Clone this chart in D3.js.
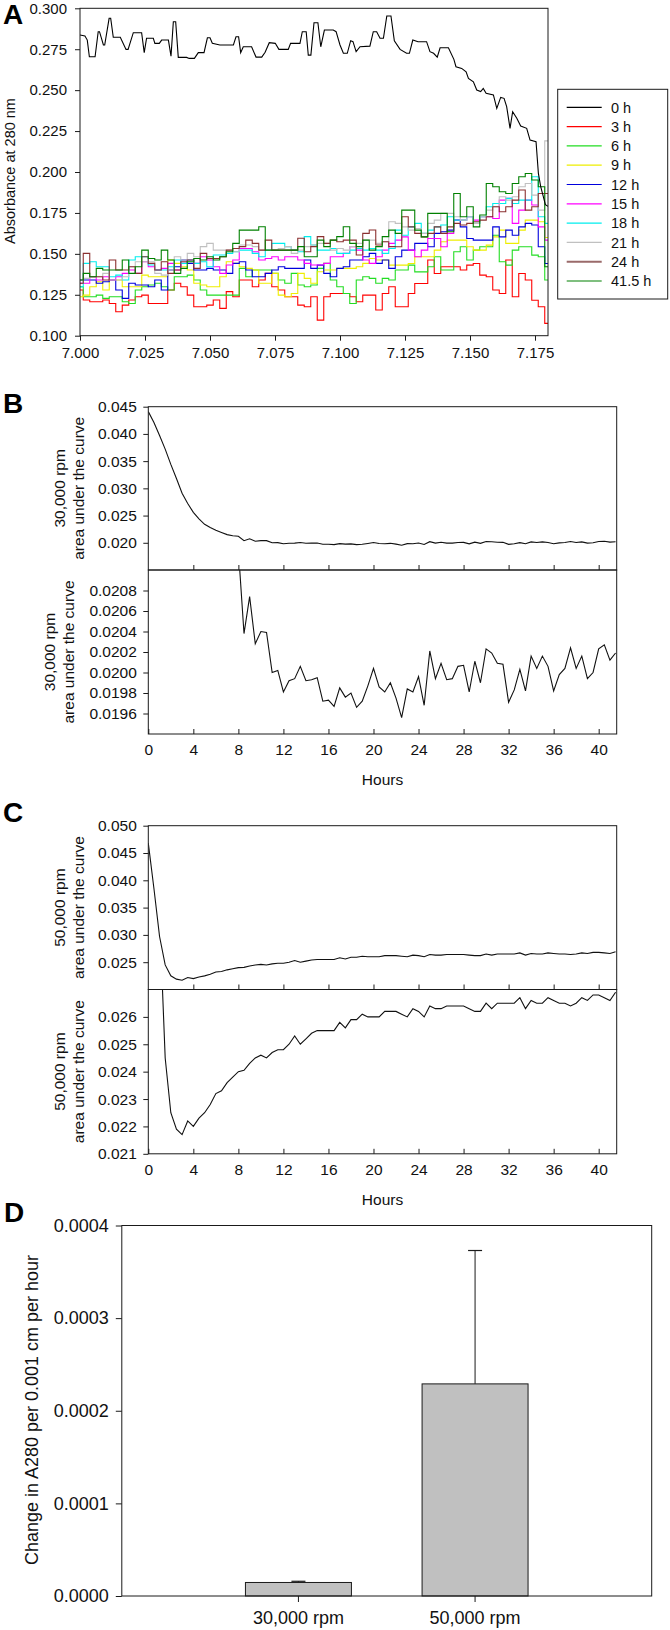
<!DOCTYPE html>
<html><head><meta charset="utf-8">
<script src="https://cdn.jsdelivr.net/npm/d3@7/dist/d3.min.js"></script>
<style>body{margin:0;background:#fff}svg{display:block}</style>
</head><body>
<script>
// ---------- Panel A data ----------
const seriesNames = ["0 h","3 h","6 h","9 h","12 h","15 h","18 h","21 h","24 h","41.5 h"];
const seriesColors = ["#000000","#ff0000","#22dd22","#eeee00","#0000dd","#ff00ff","#00eeee","#c0c0c0","#8b3030","#008000"];
const cm0h = [7.000,7.0019,7.0028,7.0036,7.0058,7.0070,7.0075,7.0090,7.0095,7.0112,7.0118,7.0128,7.0155,7.0177,7.0185,7.0205,7.0237,7.0247,7.0256,7.0282,7.0288,7.0305,7.0314,7.0340,7.0350,7.0359,7.0368,7.0378,7.0410,7.0420,7.0440,7.0455,7.0477,7.0490,7.0500,7.0509,7.0538,7.0590,7.0600,7.0610,7.0618,7.0628,7.0660,7.0677,7.0699,7.0712,7.0728,7.0751,7.0765,7.0801,7.0810,7.0846,7.0855,7.0870,7.0878,7.0888,7.0900,7.0915,7.0926,7.0940,7.0974,7.0985,7.1000,7.1013,7.1028,7.1041,7.1050,7.1062,7.1077,7.1115,7.1128,7.1141,7.1154,7.1167,7.1180,7.1196,7.1209,7.1231,7.1256,7.1267,7.1280,7.1300,7.1333,7.1346,7.1360,7.1374,7.1385,7.1417,7.1438,7.1446,7.1468,7.1485,7.1494,7.1513,7.1526,7.1541,7.1551,7.1562,7.1590,7.1603,7.1618,7.1631,7.1641,7.1654,7.1664,7.1680,7.1695,7.1718,7.1731,7.1754,7.1763,7.1772,7.1790,7.1800];
const abs0h = [0.2837,0.2831,0.2806,0.2704,0.2704,0.2857,0.2857,0.2776,0.2776,0.2939,0.2939,0.2823,0.2823,0.2749,0.2749,0.2851,0.2851,0.2729,0.2817,0.2817,0.2786,0.2786,0.2806,0.2806,0.2708,0.2918,0.2918,0.2700,0.2700,0.2694,0.2694,0.2729,0.2729,0.2820,0.2820,0.2786,0.2776,0.2776,0.2826,0.2826,0.2729,0.2765,0.2765,0.2702,0.2702,0.2731,0.2790,0.2786,0.2749,0.2749,0.2786,0.2786,0.2857,0.2857,0.2714,0.2714,0.2912,0.2912,0.2765,0.2867,0.2867,0.2857,0.2776,0.2725,0.2725,0.2802,0.2796,0.2735,0.2765,0.2769,0.2857,0.2857,0.2817,0.2817,0.2953,0.2953,0.2802,0.2749,0.2725,0.2725,0.2806,0.2796,0.2796,0.2735,0.2725,0.2702,0.2759,0.2759,0.2688,0.2643,0.2633,0.2612,0.2572,0.2551,0.2501,0.2491,0.2511,0.2481,0.2471,0.2389,0.2456,0.2450,0.2399,0.2267,0.2368,0.2328,0.2281,0.2267,0.2195,0.2185,0.1992,0.1910,0.1800,0.1790];
const cmGrid = [7.0000,7.0025,7.0050,7.0075,7.0100,7.0125,7.0150,7.0175,7.0200,7.0225,7.0250,7.0275,7.0300,7.0325,7.0350,7.0375,7.0400,7.0425,7.0450,7.0475,7.0500,7.0525,7.0550,7.0575,7.0600,7.0625,7.0650,7.0675,7.0700,7.0725,7.0750,7.0775,7.0800,7.0825,7.0850,7.0875,7.0900,7.0925,7.0950,7.0975,7.1000,7.1025,7.1050,7.1075,7.1100,7.1125,7.1150,7.1175,7.1200,7.1225,7.1250,7.1275,7.1300,7.1325,7.1350,7.1375,7.1400,7.1425,7.1450,7.1475,7.1500,7.1525,7.1550,7.1575,7.1600,7.1625,7.1650,7.1675,7.1700,7.1725,7.1750,7.1775,7.1800];
const abs3h = [0.1279,0.1218,0.1207,0.1207,0.1218,0.1197,0.1146,0.1187,0.1218,0.1238,0.1248,0.1197,0.1197,0.1197,0.1279,0.1320,0.1299,0.1248,0.1177,0.1177,0.1187,0.1218,0.1167,0.1269,0.1238,
 0.1340,0.1340,0.1299,0.1340,0.1381,0.1299,0.1279,0.1238,0.1238,0.1187,0.1177,0.1238,0.1095,0.1238,0.1258,0.1258,0.1258,0.1238,0.1207,0.1248,0.1248,0.1157,0.1258,0.1299,
 0.1177,0.1177,0.1258,0.1319,0.1319,0.1462,0.1380,0.1421,0.1421,0.1421,0.1401,0.1431,0.1441,0.1370,0.1360,0.1279,0.1258,0.1462,0.1238,0.1380,0.1340,0.1217,0.1177,0.1075];
const abs6h = [0.1299,0.1238,0.1238,0.1248,0.1228,0.1238,0.1238,0.1207,0.1197,0.1279,0.1299,0.1310,0.1320,0.1299,0.1279,0.1360,0.1360,0.1370,0.1340,0.1279,0.1248,0.1248,0.1248,0.1248,0.1248,
 0.1411,0.1360,0.1401,0.1401,0.1401,0.1381,0.1340,0.1320,0.1381,0.1310,0.1299,0.1310,0.1411,0.1442,0.1340,0.1299,0.1258,0.1197,0.1340,0.1360,0.1350,0.1320,0.1350,0.1340,
 0.1401,0.1401,0.1431,0.1390,0.1390,0.1421,0.1482,0.1401,0.1401,0.1513,0.1543,0.1462,0.1523,0.1543,0.1543,0.1614,0.1452,0.1431,0.1523,0.1543,0.1543,0.1492,0.1482,0.1340];
const abs9h = [0.1238,0.1248,0.1299,0.1330,0.1279,0.1340,0.1340,0.1299,0.1299,0.1299,0.1370,0.1360,0.1360,0.1360,0.1462,0.1442,0.1421,0.1401,0.1320,0.1310,0.1299,0.1299,0.1360,0.1452,0.1442,
 0.1421,0.1411,0.1401,0.1320,0.1320,0.1381,0.1248,0.1238,0.1258,0.1381,0.1350,0.1320,0.1391,0.1401,0.1401,0.1411,0.1411,0.1411,0.1421,0.1442,0.1472,0.1462,0.1462,0.1431,
 0.1431,0.1431,0.1441,0.1482,0.1482,0.1482,0.1523,0.1574,0.1584,0.1584,0.1584,0.1543,0.1523,0.1523,0.1553,0.1604,0.1645,0.1564,0.1564,0.1645,0.1706,0.1706,0.1696,0.1600];
const abs12h = [0.1340,0.1340,0.1340,0.1320,0.1330,0.1340,0.1279,0.1228,0.1320,0.1310,0.1310,0.1299,0.1340,0.1279,0.1401,0.1421,0.1462,0.1442,0.1401,0.1401,0.1411,0.1401,0.1401,0.1381,0.1442,
 0.1452,0.1401,0.1360,0.1360,0.1381,0.1401,0.1421,0.1411,0.1411,0.1411,0.1462,0.1411,0.1431,0.1381,0.1360,0.1411,0.1421,0.1462,0.1462,0.1482,0.1503,0.1442,0.1462,0.1411,
 0.1482,0.1523,0.1523,0.1564,0.1564,0.1543,0.1625,0.1635,0.1645,0.1706,0.1665,0.1594,0.1584,0.1584,0.1584,0.1665,0.1604,0.1645,0.1614,0.1665,0.1686,0.1676,0.1543,0.1441];
const abs15h = [0.1320,0.1320,0.1360,0.1340,0.1360,0.1340,0.1360,0.1381,0.1401,0.1381,0.1452,0.1421,0.1401,0.1411,0.1442,0.1401,0.1442,0.1462,0.1442,0.1482,0.1462,0.1421,0.1381,0.1432,0.1462,
 0.1533,0.1533,0.1513,0.1462,0.1472,0.1482,0.1462,0.1482,0.1482,0.1462,0.1442,0.1432,0.1432,0.1442,0.1482,0.1482,0.1503,0.1544,0.1523,0.1462,0.1442,0.1482,0.1523,0.1564,
 0.1584,0.1604,0.1523,0.1482,0.1523,0.1594,0.1594,0.1543,0.1625,0.1706,0.1706,0.1727,0.1706,0.1727,0.1727,0.1716,0.1828,0.1839,0.1686,0.1767,0.1828,0.1798,0.1665,0.1584];
const abs18h = [0.1299,0.1442,0.1452,0.1421,0.1421,0.1360,0.1370,0.1340,0.1462,0.1482,0.1482,0.1432,0.1401,0.1401,0.1421,0.1462,0.1442,0.1462,0.1442,0.1452,0.1421,0.1493,0.1493,0.1503,0.1513,
 0.1523,0.1523,0.1503,0.1482,0.1523,0.1564,0.1564,0.1544,0.1523,0.1513,0.1605,0.1554,0.1523,0.1523,0.1533,0.1503,0.1503,0.1523,0.1533,0.1523,0.1533,0.1523,0.1503,0.1533,
 0.1645,0.1614,0.1665,0.1686,0.1625,0.1645,0.1665,0.1676,0.1727,0.1706,0.1706,0.1727,0.1686,0.1727,0.1788,0.1808,0.1808,0.1839,0.1808,0.1828,0.1828,0.1971,0.1727,0.1686];
const abs21h = [0.1340,0.1350,0.1360,0.1360,0.1381,0.1340,0.1340,0.1360,0.1421,0.1452,0.1452,0.1452,0.1381,0.1370,0.1401,0.1482,0.1462,0.1503,0.1482,0.1544,0.1564,0.1523,0.1523,0.1523,0.1513,
 0.1554,0.1554,0.1544,0.1523,0.1523,0.1523,0.1533,0.1544,0.1503,0.1523,0.1544,0.1554,0.1564,0.1564,0.1523,0.1533,0.1523,0.1544,0.1564,0.1584,0.1584,0.1564,0.1574,0.1696,
 0.1686,0.1665,0.1645,0.1655,0.1625,0.1686,0.1706,0.1747,0.1747,0.1727,0.1706,0.1727,0.1686,0.1727,0.1767,0.1788,0.1849,0.1828,0.1849,0.1910,0.1930,0.1859,0.1767,0.2190];
const abs24h = [0.1320,0.1503,0.1360,0.1360,0.1340,0.1462,0.1401,0.1401,0.1421,0.1381,0.1482,0.1442,0.1401,0.1452,0.1381,0.1401,0.1452,0.1462,0.1411,0.1503,0.1472,0.1472,0.1482,0.1523,0.1533,
 0.1544,0.1584,0.1564,0.1523,0.1584,0.1523,0.1523,0.1523,0.1523,0.1595,0.1513,0.1544,0.1605,0.1564,0.1584,0.1574,0.1584,0.1584,0.1493,0.1625,0.1646,0.1554,0.1574,0.1544,
 0.1543,0.1727,0.1665,0.1625,0.1604,0.1625,0.1665,0.1625,0.1665,0.1686,0.1676,0.1686,0.1696,0.1706,0.1727,0.1788,0.1757,0.1788,0.1828,0.1890,0.1767,0.1788,0.1869,0.1869];
const abs41h = [0.1340,0.1381,0.1360,0.1411,0.1401,0.1401,0.1401,0.1462,0.1381,0.1421,0.1523,0.1472,0.1462,0.1523,0.1462,0.1381,0.1411,0.1452,0.1472,0.1462,0.1482,0.1462,0.1482,0.1513,0.1564,
 0.1645,0.1645,0.1645,0.1666,0.1523,0.1523,0.1523,0.1523,0.1523,0.1544,0.1482,0.1482,0.1584,0.1544,0.1584,0.1605,0.1666,0.1564,0.1544,0.1584,0.1523,0.1544,0.1605,0.1645,
 0.1625,0.1767,0.1767,0.1645,0.1604,0.1747,0.1747,0.1747,0.1635,0.1869,0.1727,0.1788,0.1665,0.1737,0.1930,0.1910,0.1879,0.1869,0.1930,0.1971,0.1991,0.1951,0.1910,0.1421];
const aYTicks = [0.100,0.125,0.150,0.175,0.200,0.225,0.250,0.275,0.300];
const aXTicks = [7.000,7.025,7.050,7.075,7.100,7.125,7.150,7.175];

// ---------- Panels B and C data ----------
const hours = [0,0.5,1,1.5,2,2.5,3,3.5,4,4.5,5,5.5,6,6.5,7,7.5,8,8.5,9,9.5,10,10.5,11,11.5,12,12.5,13,13.5,14,14.5,15,15.5,16,16.5,17,17.5,18,18.5,19,19.5,20,20.5,21,21.5,22,22.5,23,23.5,24,24.5,25,25.5,26,26.5,27,27.5,28,28.5,29,29.5,30,30.5,31,31.5,32,32.5,33,33.5,34,34.5,35,35.5,36,36.5,37,37.5,38,38.5,39,39.5,40,40.5,41,41.5];
const auc30k = [0.0441,0.0421,0.0397,0.0372,0.0344,0.0318,0.0291,0.0272,0.0256,0.0244,0.0234,0.0228,0.0223,0.0219,0.0215,0.0213,0.0212,
 0.02038,0.02074,0.02028,0.02040,0.02039,0.02000,0.02002,0.01981,0.01992,0.01994,
 0.02006,0.01992,0.01993,0.01995,0.01972,0.01973,0.01967,0.01985,0.01976,0.01980,
 0.01966,0.01972,0.01987,0.02004,0.01986,0.01981,0.01990,0.01975,0.01956,0.01984,
 0.01981,0.01996,0.01968,0.02021,0.01994,0.02009,0.01993,0.01994,0.02006,0.02007,
 0.01981,0.02011,0.01990,0.02023,0.02019,0.02009,0.02008,0.01971,0.01983,0.02003,
 0.01982,0.02016,0.02004,0.02016,0.02006,0.01982,0.01998,0.02004,0.02024,0.02004,
 0.02016,0.01994,0.02000,0.02023,0.02027,0.02012,0.02019];
const auc50k = [0.0468,0.0385,0.0297,0.0245,0.0225,0.0219,0.0217,0.0222,0.0220,0.0223,0.0225,0.0228,0.0232,0.0233,0.0236,0.0238,0.0240,0.02405,0.0243,0.0245,
 0.0246,0.0245,0.0247,0.0248,0.0248,0.0250,0.0253,0.0250,0.0252,0.0254,0.0255,0.0255,0.0255,0.0255,0.0258,0.0256,0.0259,0.0259,0.0261,0.0260,
 0.0260,0.0260,0.0262,0.0262,0.0262,0.0261,0.0260,0.0263,0.0262,0.0260,0.0264,0.0263,0.0263,0.0264,0.0264,0.0264,0.0264,0.0263,0.0262,0.0262,
 0.0265,0.0263,0.0265,0.0265,0.0265,0.0265,0.0267,0.0263,0.0266,0.0265,0.0265,0.0267,0.0266,0.0265,0.0265,0.0264,0.0265,0.0267,0.0266,0.0268,
 0.0268,0.0267,0.0266,0.0269];
const hourTicks = [0,4,8,12,16,20,24,28,32,36,40];
const bUpperTicks = [0.020,0.025,0.030,0.035,0.040,0.045];
const bLowerTicks = [0.0196,0.0198,0.0200,0.0202,0.0204,0.0206,0.0208];
const cUpperTicks = [0.025,0.030,0.035,0.040,0.045,0.050];
const cLowerTicks = [0.021,0.022,0.023,0.024,0.025,0.026];

// ---------- Panel D data ----------
const rpmCats = ["30,000 rpm","50,000 rpm"];
const rateMean = [0.0000146,0.000229];
const rateErr = [0.0000013,0.000144];
const dTicks = [0.0000,0.0001,0.0002,0.0003,0.0004];

const FONT = "'Liberation Sans', Arial, Helvetica, sans-serif";
const INK = "#1a1a1a";
const svg = d3.select("body").append("svg").attr("width",670).attr("height",1630)
  .attr("font-family",FONT);
svg.append("rect").attr("width",670).attr("height",1630).attr("fill","#fff");
const defs = svg.append("defs");
function clip(id,x0,y0,x1,y1){
  defs.append("clipPath").attr("id",id).append("rect")
    .attr("x",x0).attr("y",y0).attr("width",x1-x0).attr("height",y1-y0);
  return "url(#"+id+")";
}
function frame(x0,y0,x1,y1){
  svg.append("rect").attr("x",x0).attr("y",y0).attr("width",x1-x0).attr("height",y1-y0)
    .attr("fill","none").attr("stroke",INK).attr("stroke-width",1);
}
function styleAxis(g,fs){
  g.select(".domain").remove();
  g.selectAll("line").attr("stroke",INK);
  g.selectAll("text").attr("font-size",fs).attr("fill","#111").attr("font-family",FONT);
}
function panelLetter(t,x,y){
  svg.append("text").attr("x",x).attr("y",y).text(t).attr("font-size",28)
    .attr("font-weight","bold").attr("fill","#000");
}
function vTitle(lines,cx,cy,fs,gap){
  const t = svg.append("text").attr("transform",`translate(${cx},${cy}) rotate(-90)`)
    .attr("text-anchor","middle").attr("font-size",fs).attr("fill","#111");
  lines.forEach((l,i)=>t.append("tspan").attr("x",0)
    .attr("y",(i-(lines.length-1)/2)*gap).attr("dy","0.35em").text(l));
}

// ================= Panel A =================
const xA = d3.scaleLinear().domain([7.0,7.18]).range([80,548]);
const yA = d3.scaleLinear().domain([0.1,0.3]).range([335.7,8.3]);
const clipA = clip("cA",80,8.3,548,335.7);
const gA = svg.append("g").attr("clip-path",clipA);
const coloredSeries = [abs3h,abs6h,abs9h,abs12h,abs15h,abs18h,abs21h,abs24h,abs41h];
coloredSeries.forEach((vals,k)=>{
  const ln = d3.line().curve(d3.curveStep).x((d,i)=>xA(cmGrid[i])).y(d=>yA(d));
  gA.append("path").attr("d",ln(vals)).attr("fill","none")
    .attr("stroke",seriesColors[k+1]).attr("stroke-width",1.1);
});
gA.append("path").attr("d",d3.line().x((d,i)=>xA(cm0h[i])).y(d=>yA(d))(abs0h))
  .attr("fill","none").attr("stroke","#000").attr("stroke-width",1.1);
frame(80,8.3,548,335.7);
styleAxis(svg.append("g").attr("transform","translate(80,0)")
  .call(d3.axisLeft(yA).tickValues(aYTicks).tickFormat(d3.format(".3f")).tickSize(5).tickPadding(8)),15);
styleAxis(svg.append("g").attr("transform","translate(0,335.7)")
  .call(d3.axisBottom(xA).tickValues(aXTicks).tickFormat(d3.format(".3f")).tickSize(5).tickPadding(7)),15);
vTitle(["Absorbance at 280 nm"],10,171,14.5,0);
panelLetter("A",3,24);
// legend
const leg = svg.append("g");
leg.append("rect").attr("x",557.7).attr("y",89.3).attr("width",110).attr("height",209.7)
  .attr("fill","#fff").attr("stroke",INK);
const legY = d3.scalePoint().domain(seriesNames).range([107.3,281]);
seriesNames.forEach((n,i)=>{
  leg.append("line").attr("x1",566.7).attr("x2",601.7).attr("y1",legY(n)).attr("y2",legY(n))
    .attr("stroke",n==="24 h"?"#9a6a6a":seriesColors[i]).attr("stroke-width",n==="24 h"?2:1.2);
  leg.append("text").attr("x",611).attr("y",legY(n)).attr("dy","0.36em").attr("font-size",14.5)
    .attr("fill","#111").text(n);
});

// ================= Panel B & C =================
const xH = d3.scaleLinear().domain([0,41.6]).range([148.3,616.7]);
function dualPanel(id,vals,yU,yL,ticksU,ticksL,fmtU,fmtL,top,mid,bot,titleTop,titleXU,titleXL){
  const lineU = d3.line().x((d,i)=>xH(hours[i])).y(d=>yU(d));
  const lineL = d3.line().x((d,i)=>xH(hours[i])).y(d=>yL(d));
  svg.append("path").attr("clip-path",clip(id+"u",148.3,top,616.7,mid)).attr("d",lineU(vals))
    .attr("fill","none").attr("stroke","#111").attr("stroke-width",1.1);
  svg.append("path").attr("clip-path",clip(id+"l",148.3,mid,616.7,bot)).attr("d",lineL(vals))
    .attr("fill","none").attr("stroke","#111").attr("stroke-width",1.1);
  frame(148.3,top,616.7,mid);
  frame(148.3,mid,616.7,bot);
  styleAxis(svg.append("g").attr("transform","translate(148.3,0)")
    .call(d3.axisLeft(yU).tickValues(ticksU).tickFormat(d3.format(fmtU)).tickSize(5).tickPadding(6.5)),15.5);
  styleAxis(svg.append("g").attr("transform","translate(148.3,0)")
    .call(d3.axisLeft(yL).tickValues(ticksL).tickFormat(d3.format(fmtL)).tickSize(5).tickPadding(6.5)),15.5);
  styleAxis(svg.append("g").attr("transform",`translate(0,${mid})`)
    .call(d3.axisBottom(xH).tickValues(hourTicks.slice(1)).tickFormat("").tickSize(-5)),15.5);
  styleAxis(svg.append("g").attr("transform",`translate(0,${bot})`)
    .call(d3.axisBottom(xH).tickValues(hourTicks).tickSize(-5).tickPadding(10)),15.5);
  svg.append("text").attr("x",(148.3+616.7)/2).attr("y",bot+46).attr("dy","0.35em")
    .attr("text-anchor","middle").attr("font-size",15.5).attr("fill","#111").text("Hours");
  vTitle([titleTop,"area under the curve"],titleXU,(top+mid)/2,15.5,19);
  vTitle([titleTop,"area under the curve"],titleXL,(mid+bot)/2,15.5,19);
}
const yBu = d3.scaleLinear().domain([0.015,0.045]).range([570,406.7]);
const yBl = d3.scaleLinear().domain([0.0194,0.0210]).range([734,570]);
dualPanel("b",auc30k,yBu,yBl,bUpperTicks,bLowerTicks,".3f",".4f",406.7,570,734,"30,000 rpm",69.5,59);
panelLetter("B",3,413);
const yCu = d3.scaleLinear().domain([0.020,0.050]).range([989.5,825.7]);
const yCl = d3.scaleLinear().domain([0.021,0.027]).range([1153.8,989.5]);
dualPanel("c",auc50k,yCu,yCl,cUpperTicks,cLowerTicks,".3f",".3f",825.7,989.5,1153.8,"50,000 rpm",69.5,69.5);
panelLetter("C",3,822);

// ================= Panel D =================
const xD = d3.scaleBand().domain(rpmCats).range([121.8,651.7]).paddingInner(0.4).paddingOuter(0.7);
const yD = d3.scaleLinear().domain([0,0.0004]).range([1596,1225.5]);
const gD = svg.append("g");
rpmCats.forEach((c,i)=>{
  const cx = xD(c)+xD.bandwidth()/2;
  gD.append("line").attr("x1",cx).attr("x2",cx).attr("y1",yD(rateMean[i])).attr("y2",yD(rateMean[i]+rateErr[i]))
    .attr("stroke",INK);
  gD.append("line").attr("x1",cx-7).attr("x2",cx+7).attr("y1",yD(rateMean[i]+rateErr[i])).attr("y2",yD(rateMean[i]+rateErr[i]))
    .attr("stroke",INK).attr("stroke-width",1.2);
  gD.append("rect").attr("x",xD(c)).attr("y",yD(rateMean[i])).attr("width",xD.bandwidth())
    .attr("height",yD(0)-yD(rateMean[i])).attr("fill","#c0c0c0").attr("stroke",INK).attr("stroke-width",1);
});
frame(121.8,1225.5,651.7,1596);
styleAxis(svg.append("g").attr("transform","translate(121.8,0)")
  .call(d3.axisLeft(yD).tickValues(dTicks).tickFormat(d3.format(".4f")).tickSize(6).tickPadding(7)),18);
styleAxis(svg.append("g").attr("transform","translate(0,1596)")
  .call(d3.axisBottom(xD).tickSize(6).tickPadding(9)),18);
vTitle(["Change in A280 per 0.001 cm per hour"],32,1410,18,0);
panelLetter("D",4,1222);
</script>
</body></html>
